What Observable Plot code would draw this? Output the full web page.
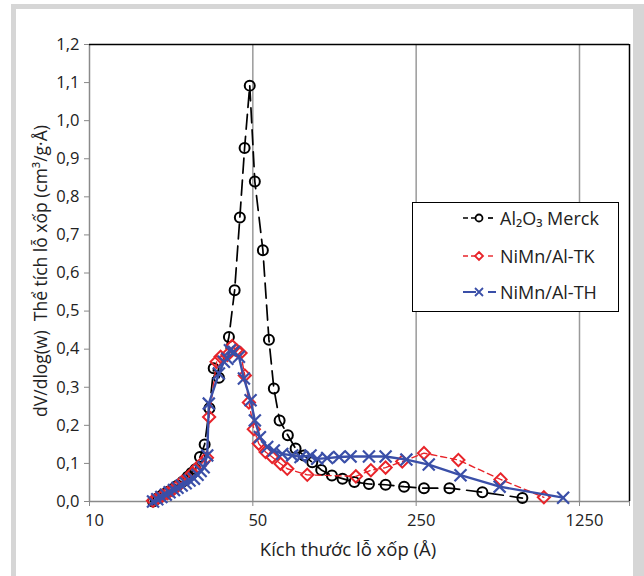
<!DOCTYPE html>
<html>
<head>
<meta charset="utf-8">
<script src="https://cdn.jsdelivr.net/npm/d3@7"></script>
<script src="https://cdn.jsdelivr.net/npm/@observablehq/plot@0.6"></script>
<style>
  html, body { margin: 0; padding: 0; background: #fff; }
  body { width: 644px; height: 576px; position: relative; overflow: hidden; font-family: "Open Sans", sans-serif; color: #222; }
  #frame { position: absolute; left: 11px; top: 4px; width: 617px; height: 620px; border-left: 5px solid #d6d6d6; border-top: 5px solid #d6d6d6; border-right: 14px solid #d6d6d6; }
  #chart { position: absolute; left: 0; top: 0; }
  .ytitle { position: absolute; left: 40px; top: 271px; transform: translate(-50%, -50%) rotate(-90deg); white-space: nowrap; font-size: 17.5px; }
  .xtitle { position: absolute; left: 348px; top: 548px; transform: translate(-50%, -50%); white-space: nowrap; font-size: 18.5px; }
  #legend { position: absolute; left: 412px; top: 202px; width: 205px; height: 108px; border: 1.5px solid #000; background: #fff; }
  .lg { position: absolute; left: 0; height: 24px; display: flex; align-items: center; font-size: 18px; white-space: nowrap; }
</style>
</head>
<body>
<div id="frame"></div>
<div id="chart"></div>
<div class="ytitle">dV/dlog(w)&nbsp; Thể tích lỗ xốp (cm³/g·Å)</div>
<div class="xtitle">Kích thước lỗ xốp (Å)</div>
<div id="legend"></div>
<script>
// Series names
const seriesNames = ["Al₂O₃ Merck", "NiMn/Al-TK", "NiMn/Al-TH"];

// Al2O3 Merck
const merckX = [18.7, 19.2, 19.7, 20.3, 20.9, 21.8, 22.7, 23.8, 25.0, 26.3, 27.3, 28.4, 29.7, 31.1, 32.6, 34.0, 35.8, 39.5, 41.8, 44.0, 46.1, 48.5, 51.0, 55.2, 58.6, 61.5, 65.1, 70.6, 76.2, 82.7, 89.8, 98.1, 109, 121, 136, 157, 185, 222, 270, 347, 480, 712];
const merckY = [0.0, 0.005, 0.01, 0.015, 0.02, 0.026, 0.033, 0.042, 0.052, 0.065, 0.075, 0.085, 0.117, 0.15, 0.245, 0.35, 0.325, 0.432, 0.555, 0.746, 0.928, 1.092, 0.84, 0.66, 0.425, 0.297, 0.213, 0.174, 0.139, 0.121, 0.103, 0.083, 0.068, 0.06, 0.051, 0.046, 0.044, 0.039, 0.035, 0.035, 0.0245, 0.009];

// NiMn/Al-TK
const tkX = [18.7, 19.5, 20.5, 21.6, 22.7, 23.8, 24.9, 26.3, 27.6, 29.0, 30.2, 31.8, 32.5, 35.0, 36.4, 38.9, 40.8, 42.6, 44.3, 46.2, 48.1, 50.5, 53.0, 56.7, 60.5, 65.7, 70.2, 85.5, 138, 160, 185, 218, 270, 379, 574, 880];
const tkY = [0.002, 0.008, 0.015, 0.022, 0.03, 0.04, 0.052, 0.062, 0.075, 0.09, 0.1, 0.115, 0.222, 0.367, 0.38, 0.385, 0.408, 0.397, 0.39, 0.331, 0.26, 0.19, 0.152, 0.13, 0.117, 0.099, 0.086, 0.07, 0.066, 0.082, 0.089, 0.105, 0.127, 0.109, 0.058, 0.011];

// NiMn/Al-TH
const thX = [18.7, 19.5, 20.3, 21.2, 22.0, 23.0, 23.8, 24.8, 25.8, 26.8, 28.0, 29.0, 29.9, 30.8, 31.9, 32.4, 35.8, 37.6, 38.9, 39.9, 41.5, 43.6, 45.8, 48.9, 51.0, 53.6, 57.6, 61.5, 66.8, 73.7, 80.0, 88.3, 94.3, 104, 117, 131, 157, 185, 227, 283, 387, 569, 1064];
const thY = [0.0, 0.006, 0.012, 0.018, 0.024, 0.03, 0.036, 0.042, 0.048, 0.055, 0.06, 0.07, 0.08, 0.09, 0.121, 0.257, 0.336, 0.367, 0.375, 0.397, 0.393, 0.38, 0.323, 0.266, 0.213, 0.169, 0.143, 0.134, 0.125, 0.121, 0.117, 0.121, 0.112, 0.114, 0.117, 0.118, 0.118, 0.118, 0.11, 0.097, 0.069, 0.039, 0.01];

// Axis ticks
const xTicks = [10, 50, 250, 1250];
const xGrid = [50, 250, 1250];
const xDomain = [10, 2046];
const yTicks = [0, 0.1, 0.2, 0.3, 0.4, 0.5, 0.6, 0.7, 0.8, 0.9, 1.0, 1.1, 1.2];
const yDomain = [0, 1.2];

const styles = [
  {color: "#000000", dash: "15,7", width: 1.7, symbol: "circle", sw: 2, r: 5, lr: 3.5},
  {color: "#e8242a", dash: "6,4", width: 1.4, symbol: "diamond2", sw: 2, r: 5.5, lr: 4},
  {color: "#3a4fa8", dash: null, width: 2.4, symbol: "times", sw: 2.2, r: 5.5, lr: 4}
];
const xs = [merckX, tkX, thX];
const ys = [merckY, tkY, thY];
const data = xs.map((arr, i) => arr.map((x, j) => ({x, y: ys[i][j], s: seriesNames[i]})));

const fmtY = d => d.toFixed(1).replace(".", ",");

const seriesMarks = [];
data.forEach((d, i) => {
  const st = styles[i];
  seriesMarks.push(Plot.line(d, {x: "x", y: "y", stroke: st.color, strokeWidth: st.width, strokeDasharray: st.dash || undefined}));
  seriesMarks.push(Plot.dot(d, {x: "x", y: "y", symbol: st.symbol, r: st.r, stroke: st.color, strokeWidth: st.sw, fill: "none"}));
});

const chart = Plot.plot({
  width: 644,
  height: 576,
  marginLeft: 89,
  marginRight: 15,
  marginTop: 44,
  marginBottom: 75,
  style: {background: "transparent", fontFamily: "Open Sans, sans-serif", fontSize: "16px", color: "#222"},
  x: {type: "log", domain: xDomain},
  y: {domain: yDomain},
  marks: [
    Plot.ruleX(xGrid, {stroke: "#9a9a9a", strokeWidth: 1.5}),
    Plot.axisX({ticks: [...xTicks, xDomain[1]], tickSize: 5, tickFormat: () => "", stroke: "#888", label: null}),
    Plot.text(xTicks, {x: d => d, frameAnchor: "bottom", dy: 24, dx: 5, text: d => String(d), fontSize: 16.5, fill: "#222"}),
    Plot.axisY({ticks: yTicks, tickSize: 5, tickPadding: 5, tickFormat: fmtY, stroke: "#888", label: null, fontSize: 16.5}),
    Plot.ruleY([yDomain[0]], {stroke: "#8a8a8a", strokeWidth: 1.5}),
    Plot.ruleX([xDomain[0]], {stroke: "#8a8a8a", strokeWidth: 1.5}),
    Plot.ruleY([yDomain[1]], {stroke: "#000", strokeWidth: 1.5}),
    Plot.ruleX([xDomain[1]], {stroke: "#000", strokeWidth: 1.5}),
    ...seriesMarks
  ]
});
document.getElementById("chart").appendChild(chart);

// Legend
const legend = document.getElementById("legend");
const tops = [3, 41, 77];
const symbolPath = {
  circle: r => `<circle cx="17" cy="12" r="${r}" fill="none"/>`,
  diamond2: r => `<path d="M17,${12 - r}L${17 + r},12L17,${12 + r}L${17 - r},12Z" fill="none"/>`,
  times: r => `<path d="M${17 - r},${12 - r}L${17 + r},${12 + r}M${17 + r},${12 - r}L${17 - r},${12 + r}" fill="none"/>`
};
seriesNames.forEach((name, i) => {
  const st = styles[i];
  const row = document.createElement("div");
  row.className = "lg";
  row.style.top = tops[i] + "px";
  row.style.left = "49px";
  const dashAttr = st.dash ? `stroke-dasharray="5,3"` : "";
  row.innerHTML = `<svg width="36" height="24" style="overflow:visible">
    <g stroke="${st.color}" stroke-width="${Math.min(st.width, 2)}">
      <line x1="1" y1="12" x2="14" y2="12" ${dashAttr}/>
      <line x1="26" y1="12" x2="34" y2="12" ${dashAttr}/>
    </g>
    <g stroke="${st.color}" stroke-width="1.8">${symbolPath[st.symbol](st.lr)}</g>
  </svg><span style="margin-left:2px">${name}</span>`;
  legend.appendChild(row);
});
</script>
</body>
</html>
